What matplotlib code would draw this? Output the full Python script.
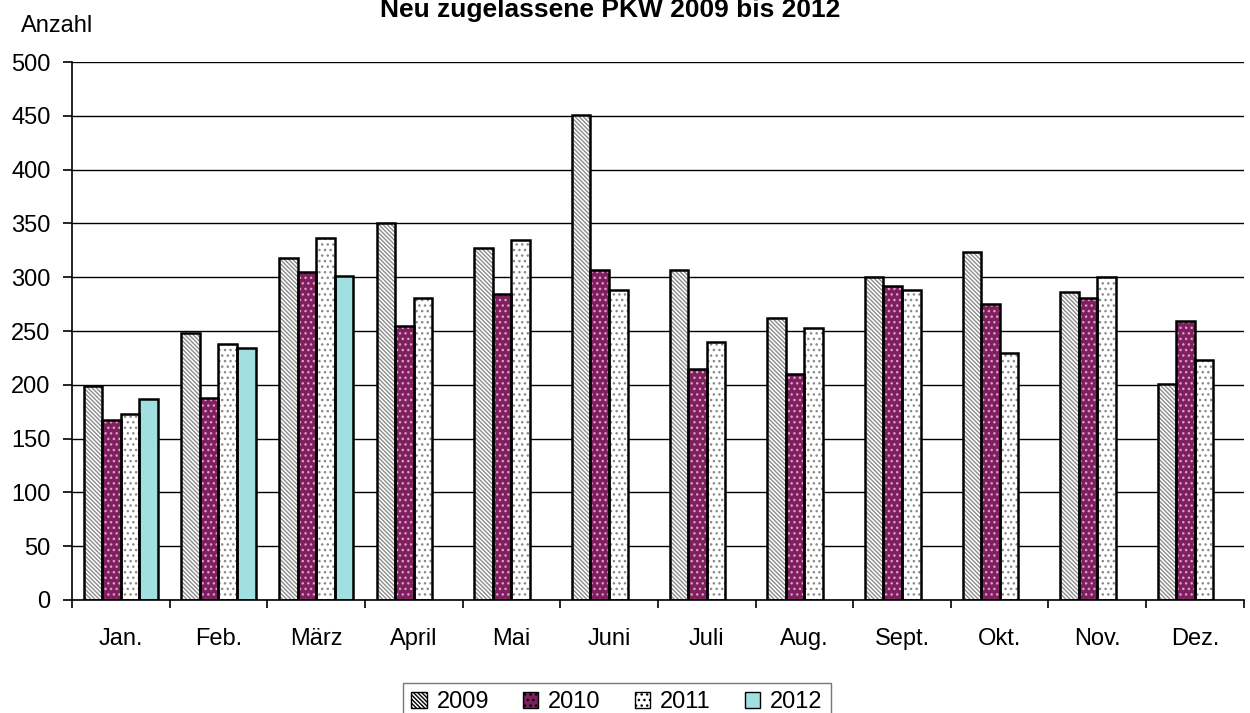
import matplotlib.pyplot as plt
from matplotlib.patches import Patch
import numpy as np

plt.rcParams['font.family'] = ['Liberation Sans', 'DejaVu Sans']
plt.rcParams['hatch.linewidth'] = 1.0

monate = ["Jan.", "Feb.", "März", "April", "Mai", "Juni", "Juli", "Aug.", "Sept.", "Okt.", "Nov.", "Dez."]
jahre = ["2009", "2010", "2011", "2012"]
w2009 = [199, 248, 318, 350, 327, 451, 307, 262, 300, 323, 286, 201]
w2010 = [167, 188, 305, 255, 284, 307, 215, 210, 292, 275, 281, 259]
w2011 = [173, 238, 336, 281, 335, 288, 240, 253, 288, 230, 300, 223]
w2012 = [187, 234, 301]

werte = [w2009, w2010, w2011, w2012]
# fill, hatch, hatch colour
stile = [("white", "\\\\\\\\\\\\\\\\", "#8c8c8c"),
         ("#7f1f5f", "...", "#d9a0c0"),
         ("white", "...", "#8a8a8a"),
         ("#a0e0e0", None, None)]

fig = plt.figure(figsize=(12.5, 7.13), dpi=100)
ax = fig.add_axes([0.0576, 0.1585, 0.9374, 0.7545])

bw = 0.19
for k, (vals, (fc, h, hc)) in enumerate(zip(werte, stile)):
    x = np.arange(len(vals)) + 0.5 + (k - 1.5) * bw
    if h:
        ax.bar(x, vals, bw, color=fc, hatch=h, edgecolor=hc, linewidth=0, zorder=2)
    else:
        ax.bar(x, vals, bw, color=fc, linewidth=0, zorder=2)
    ax.bar(x, vals, bw, fill=False, edgecolor="black", linewidth=1.8, zorder=3)

ax.set_xlim(0, 12)
ax.set_ylim(0, 500)
ax.set_yticks(range(0, 501, 50))
ax.set_xticks(range(0, 13))
ax.set_xticklabels([])
ax.set_xticks(np.arange(12) + 0.5, minor=True)
ax.set_xticklabels(monate, minor=True)
ax.tick_params(axis="x", which="minor", length=0, pad=20, labelsize=17)
ax.tick_params(axis="x", which="major", length=6, width=1.2, direction="out")
ax.tick_params(axis="y", length=6.5, width=1.2, labelsize=17, pad=9)
ax.grid(axis="y", color="black", linewidth=1)
ax.set_axisbelow(True)
for s in ["top", "right"]:
    ax.spines[s].set_visible(False)
for s in ["left", "bottom"]:
    ax.spines[s].set_linewidth(1.2)

fig.text(0.488, 0.976, "Neu zugelassene PKW 2009 bis 2012", ha="center", va="baseline",
         fontsize=19, fontweight="bold")
fig.text(0.0456, 0.955, "Anzahl", ha="center", va="baseline", fontsize=17)

handles = []
for j, (fc, h, hc) in zip(jahre, stile):
    handles.append(Patch(facecolor=fc, edgecolor="black", hatch=h, linewidth=1, label=j))
leg = fig.legend(handles=handles, loc="upper center", bbox_to_anchor=(0.4936, 0.0421), ncol=4,
                 fontsize=17, frameon=True, fancybox=False, edgecolor="#555555",
                 handlelength=0.64, handleheight=0.64, handletextpad=0.42, columnspacing=1.45,
                 borderpad=0.35, borderaxespad=0)
leg.get_frame().set_linewidth(1)

fig.savefig("out.png", dpi=100)
